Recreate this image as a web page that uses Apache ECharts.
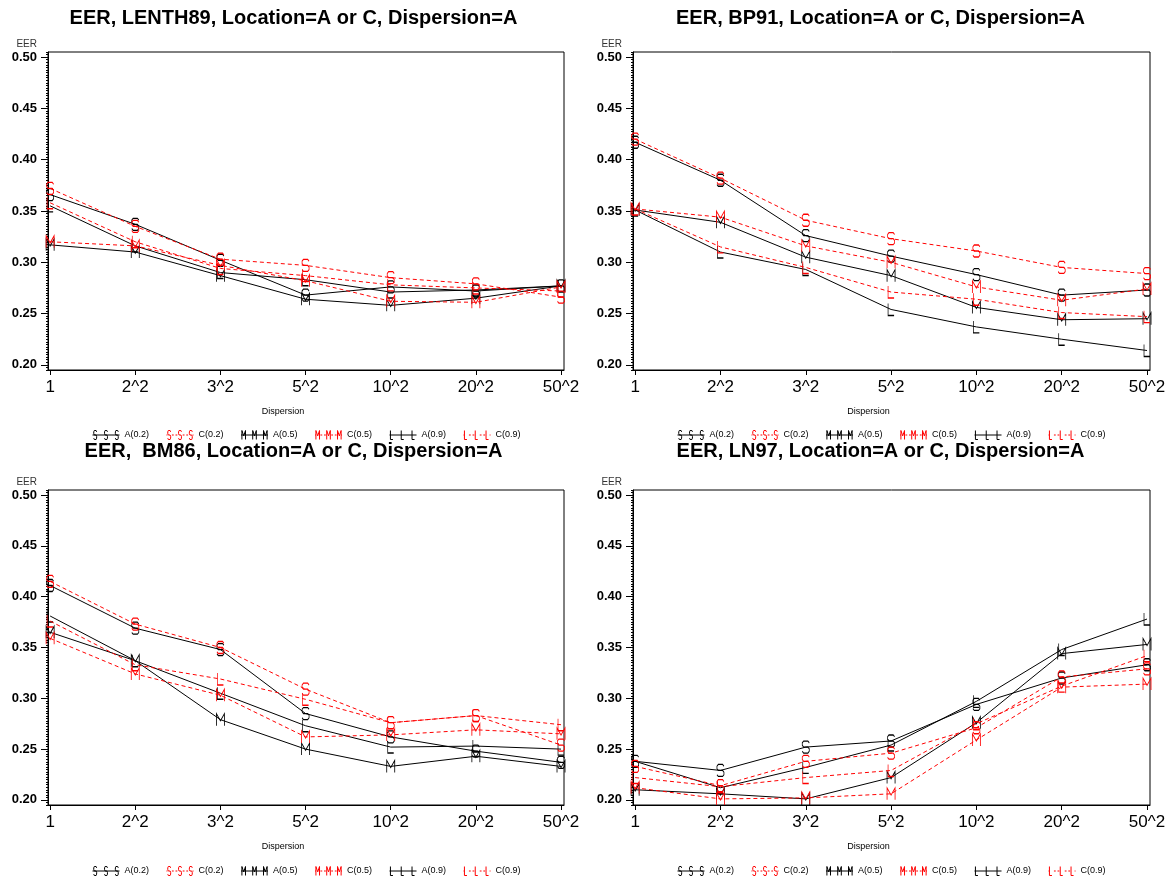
<!DOCTYPE html>
<html>
<head>
<meta charset="utf-8">
<title>EER, Location=A or C, Dispersion=A</title>
<script src="https://cdn.jsdelivr.net/npm/echarts@6/dist/echarts.min.js"></script>
<style>
  html, body { margin: 0; padding: 0; background: #fff; }
  #chart { width: 1174px; height: 878px; }
</style>
</head>
<body>
<div id="chart"></div>
<script>
var dispersion = ['1', '2^2', '3^2', '5^2', '10^2', '20^2', '50^2'];
var yTicks = [0.20, 0.25, 0.30, 0.35, 0.40, 0.45, 0.50];
var legendNames = ['A(0.2)', 'C(0.2)', 'A(0.5)', 'C(0.5)', 'A(0.9)', 'C(0.9)'];
var titles = [
  'EER, LENTH89, Location=A or C, Dispersion=A',
  'EER, BP91, Location=A or C, Dispersion=A',
  'EER,  BM86, Location=A or C, Dispersion=A',
  'EER, LN97, Location=A or C, Dispersion=A'
];

// LENTH89
var lenthA02 = [0.366, 0.337, 0.302, 0.268, 0.276, 0.272, 0.277];
var lenthC02 = [0.372, 0.335, 0.303, 0.297, 0.285, 0.279, 0.266];
var lenthA05 = [0.317, 0.310, 0.287, 0.264, 0.258, 0.265, 0.277];
var lenthC05 = [0.320, 0.316, 0.297, 0.282, 0.262, 0.261, 0.276];
var lenthA09 = [0.355, 0.316, 0.290, 0.283, 0.271, 0.273, 0.277];
var lenthC09 = [0.358, 0.320, 0.294, 0.287, 0.278, 0.275, 0.272];

// BP91
var bpA02 = [0.417, 0.380, 0.326, 0.306, 0.288, 0.268, 0.273];
var bpC02 = [0.420, 0.382, 0.341, 0.323, 0.311, 0.295, 0.289];
var bpA05 = [0.351, 0.339, 0.305, 0.287, 0.256, 0.244, 0.245];
var bpC05 = [0.352, 0.344, 0.316, 0.300, 0.276, 0.263, 0.274];
var bpA09 = [0.351, 0.310, 0.293, 0.254, 0.237, 0.225, 0.214];
var bpC09 = [0.352, 0.315, 0.295, 0.271, 0.264, 0.251, 0.247];

// BM86
var bmA02 = [0.411, 0.369, 0.348, 0.285, 0.262, 0.248, 0.237];
var bmC02 = [0.415, 0.373, 0.350, 0.309, 0.276, 0.283, 0.254];
var bmA05 = [0.365, 0.337, 0.279, 0.250, 0.233, 0.243, 0.233];
var bmC05 = [0.359, 0.324, 0.303, 0.262, 0.264, 0.269, 0.265];
var bmA09 = [0.381, 0.337, 0.305, 0.273, 0.252, 0.253, 0.250];
var bmC09 = [0.376, 0.333, 0.319, 0.299, 0.276, 0.283, 0.274];

// LN97
var lnA02 = [0.238, 0.229, 0.252, 0.258, 0.294, 0.320, 0.333];
var lnC02 = [0.233, 0.214, 0.238, 0.246, 0.271, 0.321, 0.329];
var lnA05 = [0.210, 0.206, 0.201, 0.222, 0.276, 0.344, 0.353];
var lnC05 = [0.212, 0.201, 0.202, 0.206, 0.259, 0.311, 0.314];
var lnA09 = [0.238, 0.212, 0.232, 0.254, 0.297, 0.348, 0.378];
var lnC09 = [0.222, 0.213, 0.222, 0.229, 0.275, 0.312, 0.342];

var panels = [
  [lenthA02, lenthC02, lenthA05, lenthC05, lenthA09, lenthC09],
  [bpA02, bpC02, bpA05, bpC05, bpA09, bpC09],
  [bmA02, bmC02, bmA05, bmC05, bmA09, bmC09],
  [lnA02, lnC02, lnA05, lnC05, lnA09, lnC09]
];

// letter shapes (0..10 box) drawn as open strokes, like the SAS symbols S / M / L
var letterPts = [
  [[9, 1.5], [7.5, 0], [2.5, 0], [1, 1.5], [1, 3.5], [2.5, 5], [7.5, 5], [9, 6.5], [9, 8.5], [7.5, 10], [2.5, 10], [1, 8.5]],
  [[0, 10], [0, 0], [5, 6], [10, 0], [10, 10]],
  [[0, 0], [0, 10], [7, 10]]
];
var letterSize = [[7, 12], [8, 12], [6, 12]];

function letterPath(pts, ox, w) {
  return pts.map(function (p, i) {
    return (i ? 'L' : 'M') + (ox + p[0] / 10 * w).toFixed(2) + ',' + p[1];
  }).join(' ');
}
function symbolPath(li) {
  return 'path://' + letterPath(letterPts[li], 0, 10);
}
// legend sample "S-S-S" : three small letters joined by a line (dashed for C)
function legendIcon(li, dashed) {
  var w = 4, centers = [3, 15, 27];
  var d = centers.map(function (c) { return letterPath(letterPts[li], c - w / 2, w); });
  if (dashed) {
    d.push('M0,5 L1,5', 'M6,5 L8,5', 'M10,5 L12,5', 'M18,5 L20,5', 'M22,5 L24,5', 'M29,5 L30,5');
  } else {
    d.push('M0,5 L30,5');
  }
  return 'path://' + d.join(' ');
}

var font = 'Liberation Sans, Arial, sans-serif';
var grids = [
  { left: 48, right: 610, top: 52, bottom: 508 },
  { left: 633, right: 24, top: 52, bottom: 508 },
  { left: 48, right: 610, top: 490, bottom: 73 },
  { left: 633, right: 24, top: 490, bottom: 73 }
];
var xTickIdx = dispersion.map(function (d, i) { return i; });

var option = {
  animation: false,
  textStyle: { fontFamily: font },
  title: [], grid: [], xAxis: [], yAxis: [], legend: [], series: []
};

grids.forEach(function (g, i) {
  var isLeft = i % 2 === 0;
  var isTop = i < 2;
  option.grid.push({
    left: g.left, right: g.right, top: g.top, bottom: g.bottom,
    show: true, borderColor: '#000', borderWidth: 1
  });
  option.title.push({
    text: titles[i],
    left: isLeft ? '25%' : '75%',
    top: isTop ? 8 : 441,
    textAlign: 'center',
    padding: 0,
    textStyle: { fontSize: 20, fontWeight: 'bold', color: '#000', fontFamily: font }
  });
  option.xAxis.push({
    gridIndex: i, type: 'value', min: -0.025, max: 6.035,
    axisLine: { show: true, onZero: false, lineStyle: { color: '#000' } },
    axisTick: { show: true, customValues: xTickIdx, length: 5, lineStyle: { color: '#000' } },
    axisLabel: {
      customValues: xTickIdx,
      formatter: function (v) { return dispersion[Math.round(v)]; },
      fontSize: 17, color: '#000', margin: 9, fontFamily: font
    },
    splitLine: { show: false },
    name: 'Dispersion', nameLocation: 'middle', nameGap: 37,
    nameTextStyle: { fontSize: 9, color: '#000', padding: [0, 46, 0, 0] }
  });
  option.yAxis.push({
    gridIndex: i, type: 'value', position: 'left', min: 0.195, max: 0.505,
    axisLine: { show: true, onZero: false, lineStyle: { color: '#000' } },
    axisTick: { show: true, customValues: yTicks, length: 7, lineStyle: { color: '#000' } },
    axisLabel: {
      customValues: yTicks,
      formatter: function (v) { return v.toFixed(2); },
      fontSize: 13, fontWeight: 'bold', color: '#000', margin: 11, fontFamily: font
    },
    splitLine: { show: false },
    name: 'EER', nameLocation: 'end', nameGap: 3,
    nameTextStyle: { fontSize: 10, color: '#333', align: 'right', padding: [0, 11, 0, 0] }
  });
  // minor ticks
  option.yAxis.push({
    gridIndex: i, type: 'value', position: 'left', min: 0.195, max: 0.505, interval: 0.0025,
    axisLine: { show: false, onZero: false },
    axisTick: { show: true, length: 2, lineStyle: { color: '#000' } },
    axisLabel: { show: false },
    splitLine: { show: false }
  });
  option.legend.push({
    data: legendNames.map(function (n, k) {
      return { name: n, icon: legendIcon(Math.floor(k / 2), k % 2 === 1) };
    }),
    left: isLeft ? 87 : 672,
    top: isTop ? 425 : 861,
    itemWidth: 27, itemHeight: 9, itemGap: 17,
    selectedMode: false,
    itemStyle: { borderWidth: 1 },
    textStyle: { fontSize: 9, color: '#000' }
  });

  panels[i].forEach(function (vals, k) {
    var red = k % 2 === 1;
    var color = red ? '#ff0000' : '#000000';
    var li = Math.floor(k / 2);
    option.series.push({
      name: legendNames[k],
      type: 'line',
      xAxisIndex: i,
      yAxisIndex: 2 * i,
      data: vals.map(function (v, j) { return [j, v]; }),
      symbol: symbolPath(li),
      symbolSize: letterSize[li],
      itemStyle: { color: 'transparent', borderColor: color, borderWidth: 1 },
      lineStyle: { color: color, width: 1, type: red ? [4, 3] : 'solid' },
      emphasis: { disabled: true },
      z: red ? 3 : 2
    });
  });
});

var myChart = echarts.init(document.getElementById('chart'));
myChart.setOption(option);
</script>
</body>
</html>
